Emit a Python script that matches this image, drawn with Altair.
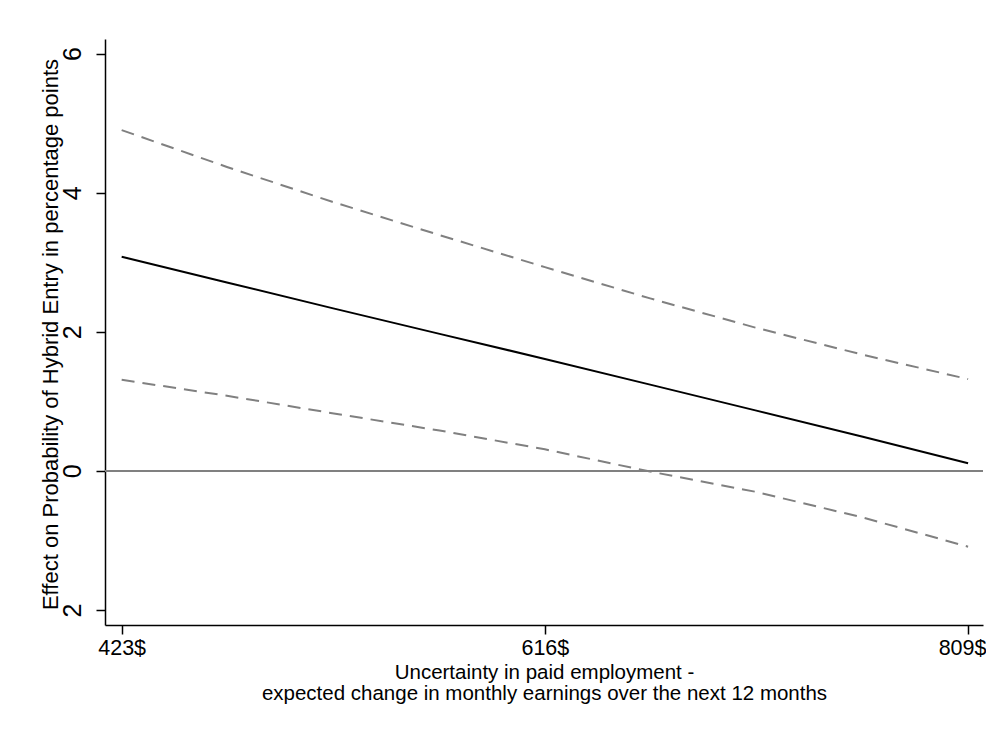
import altair as alt
import pandas as pd

# Values
x_vals = [423, 471, 519, 568, 616, 664, 712, 761, 809]
effect = [3.08, 2.71, 2.34, 1.97, 1.61, 1.24, 0.87, 0.49, 0.11]
upper = [4.90, 4.37, 3.87, 3.39, 2.93, 2.48, 2.06, 1.67, 1.32]
lower = [1.31, 1.08, 0.83, 0.58, 0.31, -0.01, -0.30, -0.67, -1.09]

x_ticks = [423, 616, 809]
y_ticks = [-2, 0, 2, 4, 6]
x_title = ["Uncertainty in paid employment -",
           "expected change in monthly earnings over the next 12 months"]
y_title = "Effect on Probability of Hybrid Entry in percentage points"

df = pd.DataFrame({"x": x_vals, "effect": effect, "upper": upper, "lower": lower})
zero = pd.DataFrame({"y": [0]})

FONT = "Liberation Sans"
W, H = 878, 586

xscale = alt.Scale(domain=[415.4, 815.8], nice=False, zero=False)
yscale = alt.Scale(domain=[-2.216, 6.21], nice=False, zero=False)

xaxis = alt.Axis(
    values=x_ticks, labelExpr="datum.value + '$'", title=x_title,
    tickSize=9, labelPadding=3, labelFontSize=21.5, labelFont=FONT,
    labelOffset={"condition": {"test": "datum.value == 809", "value": -6}, "value": 0},
    titleFont=FONT, titleFontSize=20.5, titleFontWeight="normal",
    titleLineHeight=21, titleBaseline="top", titleY=37, titleX=W / 2,
    titleAlign="center", labelFlush=False,
)
yaxis = alt.Axis(
    values=y_ticks, labelExpr="'' + abs(datum.value)", title=y_title,
    tickSize=9, labelPadding=16, labelFontSize=25, labelFont=FONT,
    labelAngle=270, labelAlign="center", labelBaseline="alphabetic",
    titleFont=FONT, titleFontSize=22, titleFontWeight="normal",
    titleAngle=270, titleAlign="center", titleBaseline="alphabetic",
    titleX=-48, titleY=H / 2 + 2, labelFlush=False,
)

base = alt.Chart(df)

zero_line = alt.Chart(zero).mark_rule(color="#808080", strokeWidth=2).encode(
    y=alt.Y("y:Q", scale=yscale, axis=yaxis)
)

up_line = base.mark_line(color="#808080", strokeWidth=2, strokeDash=[13, 8]).encode(
    x=alt.X("x:Q", scale=xscale, axis=xaxis),
    y=alt.Y("upper:Q", scale=yscale, axis=yaxis),
)
lo_line = base.mark_line(color="#808080", strokeWidth=2, strokeDash=[13, 8]).encode(
    x=alt.X("x:Q", scale=xscale, axis=xaxis),
    y=alt.Y("lower:Q", scale=yscale, axis=yaxis),
)
main_line = base.mark_line(color="black", strokeWidth=2).encode(
    x=alt.X("x:Q", scale=xscale, axis=xaxis),
    y=alt.Y("effect:Q", scale=yscale, axis=yaxis),
)

chart = alt.layer(zero_line, up_line, lo_line, main_line).properties(
    width=W, height=H,
    autosize=alt.AutoSizeParams(type="none"),
    padding={"left": 97, "top": 31, "right": 3, "bottom": 84},
    background="white",
).configure_view(stroke=None).configure_axis(
    domainColor="black", domainWidth=1.5, tickColor="black", tickWidth=1.5,
    labelColor="black", titleColor="black", grid=False,
)

chart.save("out.html", embed_options={"renderer": "svg", "actions": False})
